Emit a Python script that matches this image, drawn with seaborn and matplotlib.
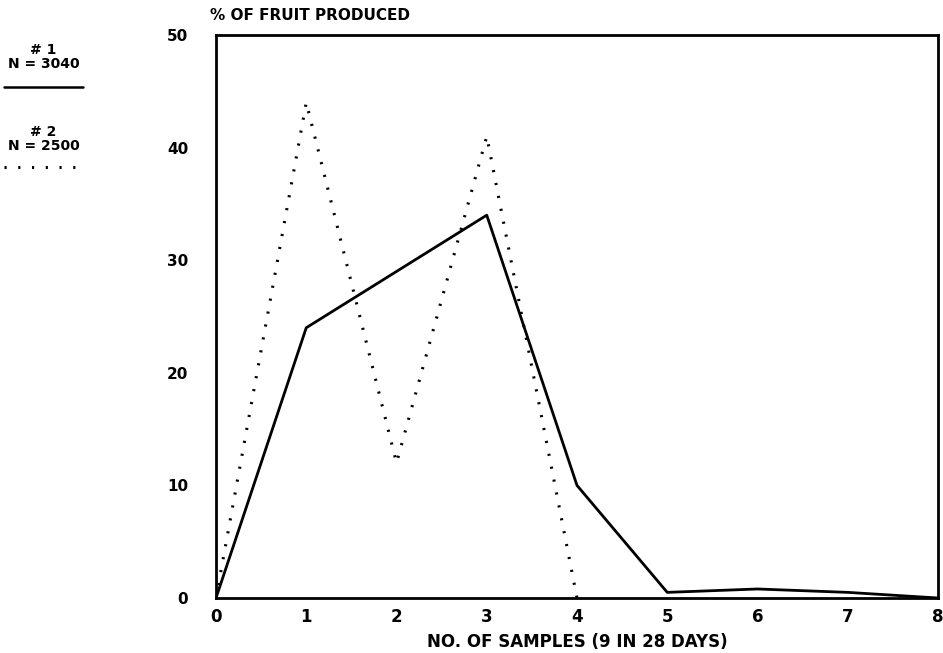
import matplotlib
matplotlib.use("Agg")
import matplotlib.pyplot as plt
from matplotlib.lines import Line2D
import seaborn as sns
import pandas as pd

# Data
x_solid = [0, 1, 2, 3, 4, 5, 6, 7, 8]
y_solid = [0, 24, 29, 34, 10, 0.5, 0.8, 0.5, 0]
x_dotted = [0, 1, 2, 3, 4]
y_dotted = [0, 44, 12, 41, 0]
x_ticks = [0, 1, 2, 3, 4, 5, 6, 7, 8]
y_ticks = [0, 10, 20, 30, 40, 50]
title_text = "% OF FRUIT PRODUCED"
xlabel_text = "NO. OF SAMPLES (9 IN 28 DAYS)"
legend1_top, legend1_bottom = "# 1", "N = 3040"
legend2_top, legend2_bottom = "# 2", "N = 2500"

sns.set_style("white")
plt.rcParams['font.family'] = ['DejaVu Sans']
plt.rcParams['text.color'] = 'black'
plt.rcParams['axes.labelcolor'] = 'black'

W, H = 943, 653
fig = plt.figure(figsize=(W / 100, H / 100), dpi=100)
ax = fig.add_axes([216 / W, 1 - 598 / H, (938 - 216) / W, (598 - 35) / H])

df1 = pd.DataFrame({"x": x_solid, "y": y_solid})
df2 = pd.DataFrame({"x": x_dotted, "y": y_dotted})
sns.lineplot(data=df1, x="x", y="y", ax=ax, color="black", linewidth=2.0)
sns.lineplot(data=df2, x="x", y="y", ax=ax, color="black", linewidth=2.2,
             linestyle=(0, (0.7, 3.6)))

ax.set_xlim(0, 8)
ax.set_ylim(0, 50)
ax.set_xticks(x_ticks)
ax.set_yticks(y_ticks)
ax.set_xticklabels([str(v) for v in x_ticks], fontsize=12, fontweight="bold", color="black")
ax.set_yticklabels([str(v) for v in y_ticks], fontsize=11, fontweight="bold", color="black")
ax.tick_params(axis="both", direction="in", length=6, width=1.5, colors="black")
ax.tick_params(axis="x", pad=7)
ax.tick_params(axis="y", pad=20)
for s in ax.spines.values():
    s.set_visible(True)
    s.set_color("black")
    s.set_linewidth(2)
ax.set_xlabel(xlabel_text, fontsize=12, fontweight="bold", labelpad=5, color="black")
ax.set_ylabel("")
fig.text(210 / W, 1 - 16 / H, title_text, fontsize=11, fontweight="bold",
         ha="left", va="center", color="black")

# Custom legend at left
fig.text(30 / W, 1 - 50 / H, legend1_top, fontsize=10, fontweight="bold",
         ha="left", va="center", color="black")
fig.text(8 / W, 1 - 64 / H, legend1_bottom, fontsize=10, fontweight="bold",
         ha="left", va="center", color="black")
fig.add_artist(Line2D([4 / W, 83 / W], [1 - 87 / H, 1 - 87 / H],
                      color="black", linewidth=1.8, transform=fig.transFigure))
fig.text(30 / W, 1 - 132 / H, legend2_top, fontsize=10, fontweight="bold",
         ha="left", va="center", color="black")
fig.text(8 / W, 1 - 146 / H, legend2_bottom, fontsize=10, fontweight="bold",
         ha="left", va="center", color="black")
fig.add_artist(Line2D([4 / W, 76 / W], [1 - 167 / H, 1 - 167 / H],
                      color="black", linewidth=2.2, linestyle=(0, (0.7, 3.8)),
                      transform=fig.transFigure))

fig.savefig("out.png", dpi=100)
